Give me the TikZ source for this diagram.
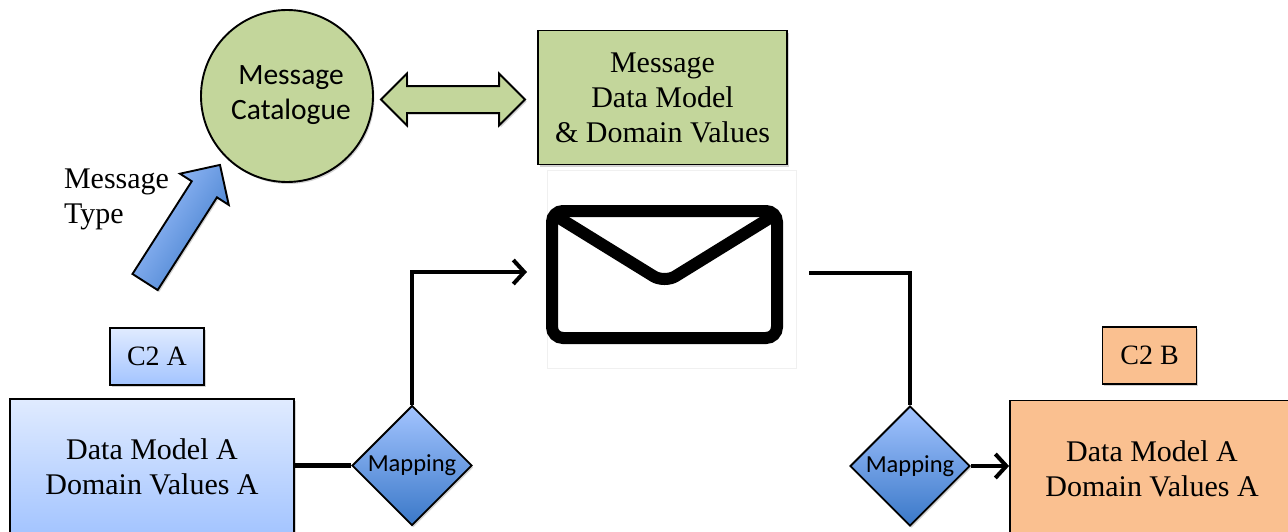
\documentclass[tikz,border=0pt]{standalone}
\usepackage{fontspec}
\setmainfont{Liberation Serif}
\newfontfamily\calfont{Carlito}
\usetikzlibrary{arrows.meta,shapes.geometric,shapes.arrows,shadows,positioning}
\definecolor{greenfill}{HTML}{C3D69B}
\definecolor{orangefill}{HTML}{FAC090}
\definecolor{bluelight}{HTML}{E0EBFF}
\definecolor{bluemid}{HTML}{A3C4FF}
\definecolor{bluedark}{HTML}{3A78C8}
\tikzset{
  basic/.style   = {draw=black, line width=1.9pt, align=center, inner sep=0pt,
                    drop shadow={shadow xshift=1.5pt, shadow yshift=-2pt, opacity=.35}},
  label/.style   = {font=\fontsize{30}{35}\selectfont, align=center, inner sep=0pt},
  bigbox/.style  = {basic, minimum width=284pt, minimum height=136pt, label},
  tagbox/.style  = {basic, minimum width=94pt, minimum height=57pt, label, font=\fontsize{28}{35}\selectfont},
  greenbox/.style = {basic, fill=greenfill, label},
  bluebox/.style = {top color=bluelight, bottom color=bluemid},
  mapping/.style = {basic, diamond, aspect=1, minimum width=120pt, minimum height=120pt,
                    top color=bluemid, bottom color=bluedark,
                    font=\calfont\fontsize{24.5}{28}\selectfont},
  link/.style    = {line width=4.4pt}
}

\begin{document}
\begin{tikzpicture}[x=1pt, y=-1pt, >={Straight Barb[length=11pt,width=24pt,line width=4pt]}]
  \clip (0,0) rectangle (1288,531);

  % message catalogue and its data model
  \node[basic, circle, fill=greenfill, minimum size=172pt] (catalogue) at (287,96) {};
  \node[font=\calfont\fontsize{29.5}{35}\selectfont, align=center, inner sep=0pt] (cataloguetext) at (291,95) {Message\\Catalogue};
  \node[greenbox, minimum width=249pt, minimum height=134pt] (model) at (662.5,97.5) {Message\\Data Model\\\& Domain Values};
  \node[basic, double arrow, fill=greenfill, minimum width=50pt, minimum height=144pt,
        inner ysep=12.5pt, double arrow head extend=12.5pt] (link) at (453,99.5) {};

  % message type arrow
  \node[basic, single arrow, top color=bluemid, bottom color=bluedark, shading angle=57.4, minimum width=56pt,
        minimum height=139pt, inner ysep=14pt, single arrow head extend=14pt, rotate=57.4] (typearrow) at (178.5,229.75) {};
  \node[label, align=left] (typetext) at (116.5,199) {Message\\Type};

  % the envelope
  \node[draw=black!6, line width=1pt, minimum width=249pt, minimum height=198pt] (envelope) at (671.5,269) {};
  \draw[line width=12pt, rounded corners=11pt] (552,211) rectangle (777,338);
  \draw[line width=12pt, rounded corners=13pt] (556,216) -- (664.5,283) -- (773,216);

  % the two sides
  \node[bigbox, bluebox] (modela) at (152,467) {Data Model A\\Domain Values A};
  \node[tagbox, bluebox] (taga) at (157,356.5) {C2 A};
  \node[mapping] (mapa) at (412,465.5) {Mapping};

  \node[bigbox, fill=orangefill] (modelb) at (1152,468.5) {Data Model A\\Domain Values A};
  \node[tagbox, fill=orangefill] (tagb) at (1149.5,355.5) {C2 B};
  \node[mapping] (mapb) at (910,466) {Mapping};

  % free ends beside the envelope
  \coordinate (inend) at (527,272);
  \coordinate (outstart) at (809,273);

  % lines from the mappings to their neighbours
  \draw[link] (modela.east |- mapa.west) -- (mapa.west);
  \draw[link, ->] (mapa.north) |- (inend);
  \draw[link] (outstart) -| (mapb.north);
  \draw[link, ->] (mapb.east) -- (modelb.west |- mapb.east);
\end{tikzpicture}
\end{document}
